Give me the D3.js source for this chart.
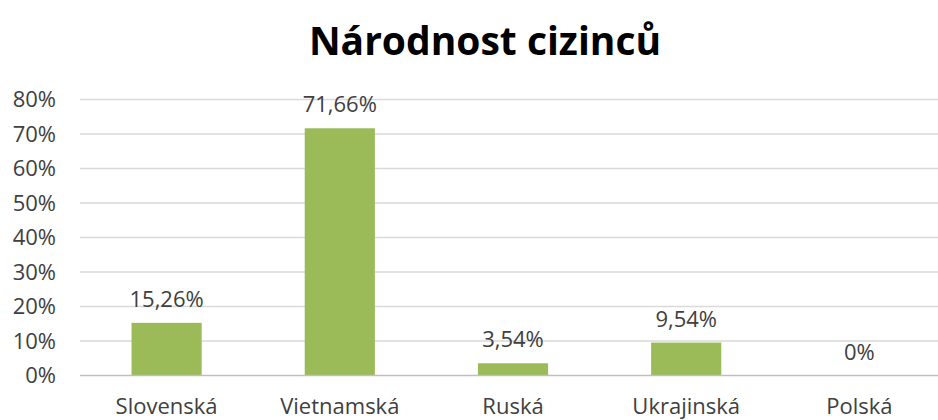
<!DOCTYPE html>
<html><head><meta charset="utf-8">
<script src="https://cdn.jsdelivr.net/npm/d3@7/dist/d3.min.js"></script>
<style>body{margin:0;background:#fff;overflow:hidden}</style>
</head><body>
<svg id="c" width="938" height="420"></svg>
<script>
const categories = ["Slovenská", "Vietnamská", "Ruská", "Ukrajinská", "Polská"];
const values = [15.26, 71.66, 3.54, 9.54, 0];
const labels = ["15,26%", "71,66%", "3,54%", "9,54%", "0%"];
const yTicks = [0, 10, 20, 30, 40, 50, 60, 70, 80];
const title = "Národnost cizinců";

const svg = d3.select("#c");
const font = "'Open Sans', 'Liberation Sans', sans-serif";
const x = d3.scaleBand().domain(categories).range([80, 946]).paddingInner(0.595).paddingOuter(0.2975);
const y = d3.scaleLinear().domain([0, 80]).range([375.5, 99.5]);

svg.append("text").attr("x", 485).attr("y", 55).attr("text-anchor", "middle")
  .attr("font-family", font).attr("font-weight", "bold").attr("font-size", 39).attr("fill", "#000").text(title);

const g = svg.append("g");
g.selectAll("line.grid").data(yTicks.filter(d => d > 0)).join("line")
  .attr("x1", 80).attr("x2", 946).attr("y1", d => y(d)).attr("y2", d => y(d))
  .attr("stroke", "#d9d9d9").attr("stroke-width", 1.5);

g.selectAll("rect").data(values).join("rect")
  .attr("x", (d, i) => x(categories[i])).attr("width", x.bandwidth())
  .attr("y", d => y(d)).attr("height", d => y(0) - y(d)).attr("fill", "#9bbb59");

g.append("line").attr("x1", 80).attr("x2", 946).attr("y1", y(0)).attr("y2", y(0))
  .attr("stroke", "#bfbfbf").attr("stroke-width", 1.5);

g.selectAll("text.tick").data(yTicks).join("text")
  .attr("x", 56).attr("y", d => y(d) + 7.5).attr("text-anchor", "end")
  .attr("font-family", font).attr("font-size", 22).attr("fill", "#404040").text(d => d + "%");

g.selectAll("text.cat").data(categories).join("text")
  .attr("x", d => x(d) + x.bandwidth() / 2).attr("y", 414).attr("text-anchor", "middle")
  .attr("font-family", font).attr("font-size", 22).attr("fill", "#404040").text(d => d);

g.selectAll("text.lbl").data(values).join("text")
  .attr("x", (d, i) => x(categories[i]) + x.bandwidth() / 2).attr("y", d => y(d) - 16)
  .attr("text-anchor", "middle")
  .attr("font-family", font).attr("font-size", 22).attr("fill", "#404040").text((d, i) => labels[i]);
</script>
</body></html>
